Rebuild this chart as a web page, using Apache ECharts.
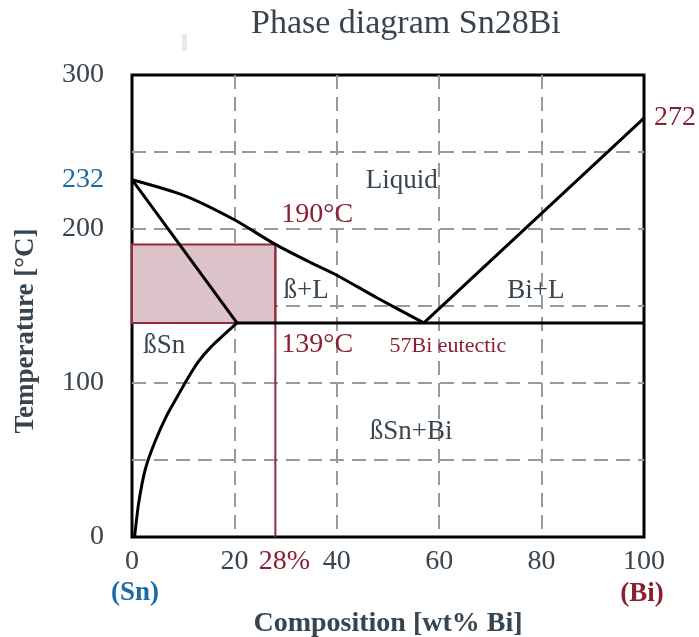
<!DOCTYPE html>
<html>
<head>
<meta charset="utf-8">
<script src="https://cdn.jsdelivr.net/npm/echarts@6/dist/echarts.min.js"></script>
<style>
  html, body { margin: 0; padding: 0; background: #fff; }
  #chart { width: 699px; height: 637px; }
</style>
</head>
<body>
<div id="chart"></div>
<script>
// Sn–Bi binary phase diagram with the Sn-28Bi alloy highlighted
const compositionTicks = [0, 20, 40, 60, 80, 100];
const temperatureTicks = [0, 100, 200, 300];

const meltSn = 232;          // melting point of pure Sn, °C
const meltBi = 272;          // melting point of pure Bi, °C
const eutecticT = 139;       // eutectic temperature, °C
const eutecticX = 57;        // eutectic composition, wt% Bi
const solubilityX = 20.5;    // max Bi solubility in βSn at the eutectic
const alloyX = 28;           // alloy composition, wt% Bi
const alloyLiquidusT = 190;  // liquidus temperature of the alloy, °C

// liquidus on the Sn-rich side (wt% Bi, °C)
const liquidusSn = [[0, meltSn], [10, 222], [20, 206], [alloyX, alloyLiquidusT], [35, 178], [40, 170], [48, 155], [eutecticX, eutecticT]];
// liquidus on the Bi-rich side
const liquidusBi = [[eutecticX, eutecticT], [100, meltBi]];
// solidus of βSn
const solidusSn = [[0, meltSn], [solubilityX, eutecticT]];
// solvus of βSn
const solvusSn = [[0.5, 0], [1.3, 22], [2.6, 44], [4.5, 62], [6.8, 79], [9, 92], [10.7, 102], [13, 114], [15.3, 123], [solubilityX, eutecticT]];
// eutectic isotherm
const eutecticLine = [[solubilityX, eutecticT], [100, eutecticT]];
// vertical line of the alloy composition
const alloyLine = [[alloyX, 0], [alloyX, alloyLiquidusT]];

// phase-field names and where they sit (wt% Bi, °C)
const regionNames = ['Liquid', 'ß+L', 'Bi+L', 'ßSn', 'ßSn+Bi'];
const regionAnchors = [[52.7, 231], [34, 160], [78.9, 160], [6.3, 124], [54.5, 68]];

const FONT = '"Liberation Serif", "DejaVu Serif", serif';
const INK = '#364550';
const RED = '#8c1f33';
const BLUE = '#1a6aa8';

const chart = echarts.init(document.getElementById('chart'), null, { renderer: 'canvas' });

function curve(data, color, width, smooth) {
  return {
    type: 'line', data: data, symbol: 'none', silent: true, animation: false,
    smooth: smooth || false,
    lineStyle: { color: color, width: width }, z: 5
  };
}

const textItems = [];
regionNames.forEach((name, i) => {
  textItems.push({
    value: regionAnchors[i],
    label: { show: true, position: 'inside', formatter: name, color: INK, fontSize: 27 }
  });
});
textItems.push({
  value: [0, meltSn],
  label: { show: true, position: 'left', distance: 28, formatter: String(meltSn), color: BLUE, fontSize: 28 }
});
textItems.push({
  value: [100, meltBi],
  label: { show: true, position: 'right', distance: 10, formatter: String(meltBi), color: RED, fontSize: 28 }
});
textItems.push({
  value: [alloyX, alloyLiquidusT],
  label: { show: true, position: 'right', distance: 6, offset: [0, -30], formatter: alloyLiquidusT + '°C', color: RED, fontSize: 28 }
});
textItems.push({
  value: [alloyX, eutecticT],
  label: { show: true, position: 'right', distance: 6, offset: [0, 22], formatter: eutecticT + '°C', color: RED, fontSize: 28 }
});
textItems.push({
  value: [eutecticX, eutecticT],
  label: { show: true, position: 'inside', offset: [24, 23], formatter: eutecticX + 'Bi eutectic', color: RED, fontSize: 22 }
});
textItems.push({
  value: [alloyX, 0],
  label: { show: true, position: 'bottom', distance: 11, offset: [9, 0], formatter: alloyX + '%', color: RED, fontSize: 28 }
});
textItems.push({
  value: [0, 0],
  label: { show: true, position: 'bottom', distance: 43, offset: [3, 0], formatter: '(Sn)', color: BLUE, fontSize: 27, fontWeight: 'bold' }
});
textItems.push({
  value: [100, 0],
  label: { show: true, position: 'bottom', distance: 44, offset: [-2, 0], formatter: '(Bi)', color: RED, fontSize: 27, fontWeight: 'bold' }
});

chart.setOption({
  animation: false,
  textStyle: { fontFamily: FONT },
  title: {
    text: 'Phase diagram Sn28Bi',
    left: 246, top: 2,
    textStyle: { fontFamily: FONT, fontSize: 34, fontWeight: 'normal', color: INK }
  },
  graphic: [{
    type: 'rect', left: 182, top: 34, shape: { width: 5, height: 17 },
    style: { fill: '#e9e9e9' }, silent: true
  }],
  grid: {
    left: 132, right: 55, top: 75, bottom: 100,
    outerBoundsMode: 'none', containLabel: false,
    show: true, borderColor: '#000', borderWidth: 3, backgroundColor: 'transparent'
  },
  xAxis: {
    type: 'value', min: 0, max: 100, interval: 20,
    axisLine: { show: false }, axisTick: { show: false },
    axisLabel: {
      margin: 11, fontFamily: FONT, fontSize: 28, color: INK,
      formatter: v => compositionTicks.includes(v) ? String(v) : ''
    },
    splitLine: {
      show: true, showMinLine: false, showMaxLine: false,
      lineStyle: { color: '#9a9a9a', width: 2, type: [14, 8] }
    },
    name: 'Composition [wt% Bi]', nameLocation: 'middle', nameGap: 73,
    nameTextStyle: { fontFamily: FONT, fontSize: 28, fontWeight: 'bold', color: INK }
  },
  yAxis: {
    type: 'value', min: 0, max: 300, interval: 50,
    axisLine: { show: false }, axisTick: { show: false },
    axisLabel: {
      margin: 28, fontFamily: FONT, fontSize: 28, color: INK,
      formatter: v => temperatureTicks.includes(v) ? String(v) : ''
    },
    splitLine: {
      show: true, showMinLine: false, showMaxLine: false,
      lineStyle: { color: '#9a9a9a', width: 2, type: [14, 8] }
    },
    name: 'Temperature [°C]', nameLocation: 'middle', nameGap: 92,
    nameTextStyle: { fontFamily: FONT, fontSize: 27, fontWeight: 'bold', color: INK, padding: [0, 50, 0, 0] }
  },
  series: [
    {
      type: 'line', data: alloyLine, symbol: 'none', silent: true, z: 3,
      lineStyle: { color: '#962a3d', width: 2 },
      markArea: {
        silent: true,
        itemStyle: { color: '#dcc3c9', borderColor: '#962a3d', borderWidth: 2 },
        data: [[{ coord: [0, eutecticT] }, { coord: [alloyX, alloyLiquidusT] }]]
      }
    },
    curve(liquidusSn, '#000', 3, 0.25),
    curve(liquidusBi, '#000', 3),
    curve(solidusSn, '#000', 3),
    curve(solvusSn, '#000', 3, 0.2),
    curve(eutecticLine, '#000', 3),
    {
      type: 'scatter', data: textItems, symbolSize: 0, silent: true, clip: false, z: 10,
      itemStyle: { opacity: 1 },
      label: { fontFamily: FONT }
    }
  ]
});
</script>
</body>
</html>
